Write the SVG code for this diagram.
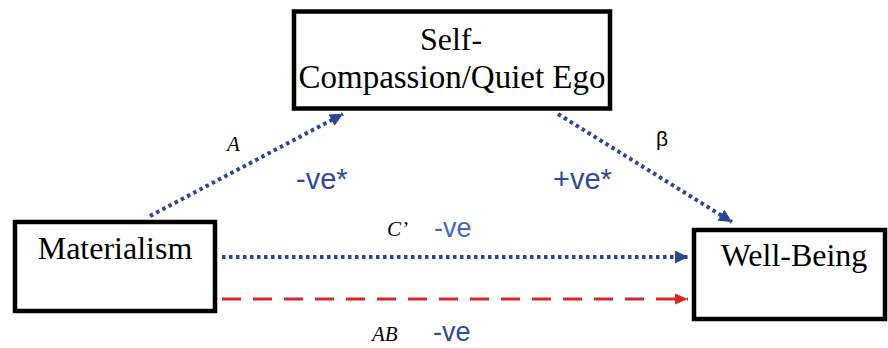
<svg xmlns="http://www.w3.org/2000/svg" width="888" height="348" viewBox="0 0 888 348">
<defs>
<style>
.box{fill:#fff;stroke:#000;stroke-width:4.5}
.nt{font-family:"Liberation Serif","Times New Roman",serif;font-size:32px;fill:#000;text-anchor:middle}
.dot{fill:none;stroke:#2C4696;stroke-width:4;stroke-dasharray:3.5 3.5}
.dash{fill:none;stroke:#D9262B;stroke-width:3;stroke-dasharray:19 12}
.it{font-family:"Liberation Serif","Times New Roman",serif;font-style:italic;font-size:21px;fill:#000}
.ve{font-family:"Liberation Sans",Arial,sans-serif;font-size:27px;fill:#2F4A9A}
.vs{font-size:29px}
</style>
<marker id="ab" markerUnits="userSpaceOnUse" markerWidth="14" markerHeight="14" refX="13" refY="6.5" orient="auto">
<path d="M0,0 L13,6.5 L0,13 z" fill="#2C4696"/>
</marker>
<marker id="ar" markerUnits="userSpaceOnUse" markerWidth="14" markerHeight="14" refX="13" refY="5.5" orient="auto">
<path d="M0,0 L13,5.5 L0,11 z" fill="#D9262B"/>
</marker>
</defs>
<g id="connectors">
<line class="dot" x1="150" y1="216" x2="343" y2="114" marker-end="url(#ab)"/>
<line class="dot" x1="558" y1="114" x2="732" y2="222" marker-end="url(#ab)"/>
<line class="dot" x1="222" y1="257" x2="688" y2="257" marker-end="url(#ab)"/>
<line class="dash" x1="222" y1="299" x2="688" y2="299" marker-end="url(#ar)"/>
</g>
<g id="node-self-compassion">
<rect class="box" x="294" y="11.5" width="316" height="97"/>
<text class="nt" x="451" y="50">Self-</text>
<text class="nt" x="452" y="88" style="font-size:33px">Compassion/Quiet Ego</text>
</g>
<g id="node-materialism">
<rect class="box" x="15" y="222" width="200" height="89"/>
<text class="nt" x="115" y="259">Materialism</text>
</g>
<g id="node-well-being">
<rect class="box" x="694" y="230" width="191" height="89"/>
<text class="nt" x="794" y="266">Well-Being</text>
</g>
<g id="labels">
<text class="it" x="227" y="151">A</text>
<text class="ve vs" x="296" y="189">-ve*</text>
<text x="656" y="146" style="font-family:'Liberation Sans',Arial,sans-serif;font-size:21px;fill:#000">β</text>
<text class="ve vs" x="553" y="189">+ve*</text>
<text class="it" x="387" y="236">C’</text>
<text class="ve" x="434" y="237" style="fill:#4467C2">-ve</text>
<text class="it" x="372" y="341">AB</text>
<text class="ve" x="433" y="341">-ve</text>
</g>
</svg>
